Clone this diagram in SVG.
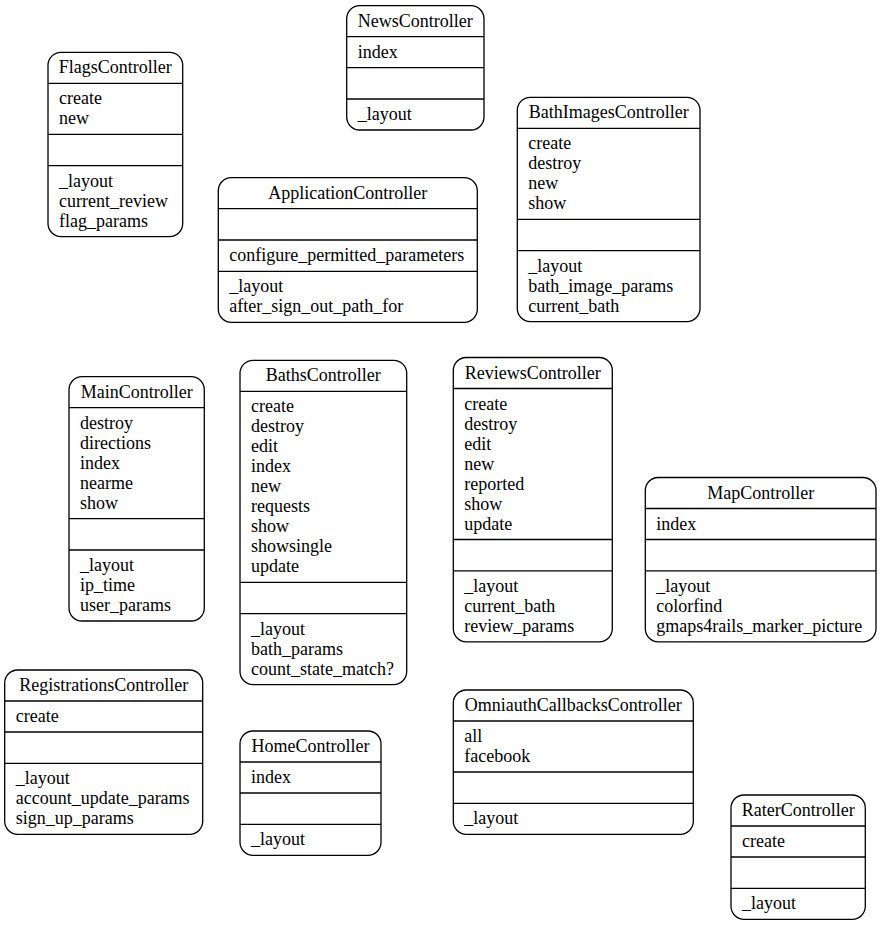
<svg xmlns="http://www.w3.org/2000/svg" width="881" height="925" viewBox="0 0 881 925" font-family="'Liberation Serif', 'Times New Roman', Times, serif" font-size="18">
<style>
.box{fill:#fff;stroke:#000;stroke-width:1.3}
.sep{stroke:#000;stroke-width:1.3}
.t{text-anchor:middle}
</style>
<rect width="881" height="925" fill="#fff"/>
<g id="connectors"></g>

<g id="FlagsController">
<rect class="box" x="48" y="52.3" width="134.7" height="184.3" rx="13"/>
<line class="sep" x1="48" y1="83.3" x2="182.7" y2="83.3"/>
<line class="sep" x1="48" y1="134.3" x2="182.7" y2="134.3"/>
<line class="sep" x1="48" y1="165.6" x2="182.7" y2="165.6"/>
<text class="t" x="115.3" y="73.3">FlagsController</text>
<text x="59" y="104.3">create</text>
<text x="59" y="124.3">new</text>
<text x="59" y="186.6">_layout</text>
<text x="59" y="206.6">current_review</text>
<text x="59" y="226.6">flag_params</text>
</g>

<g id="NewsController">
<rect class="box" x="346.7" y="5.7" width="137.3" height="124.3" rx="13"/>
<line class="sep" x1="346.7" y1="36.7" x2="484" y2="36.7"/>
<line class="sep" x1="346.7" y1="67.7" x2="484" y2="67.7"/>
<line class="sep" x1="346.7" y1="99" x2="484" y2="99"/>
<text class="t" x="415.3" y="26.7">NewsController</text>
<text x="357.7" y="57.7">index</text>
<text x="357.7" y="120">_layout</text>
</g>

<g id="ApplicationController">
<rect class="box" x="218.3" y="177.7" width="259" height="144.6" rx="13"/>
<line class="sep" x1="218.3" y1="208.7" x2="477.3" y2="208.7"/>
<line class="sep" x1="218.3" y1="240" x2="477.3" y2="240"/>
<line class="sep" x1="218.3" y1="271.3" x2="477.3" y2="271.3"/>
<text class="t" x="347.8" y="198.7">ApplicationController</text>
<text x="229.3" y="261">configure_permitted_parameters</text>
<text x="229.3" y="292.3">_layout</text>
<text x="229.3" y="312.3">after_sign_out_path_for</text>
</g>

<g id="BathImagesController">
<rect class="box" x="517.3" y="97.3" width="182.7" height="224.3" rx="13"/>
<line class="sep" x1="517.3" y1="128.3" x2="700" y2="128.3"/>
<line class="sep" x1="517.3" y1="219.3" x2="700" y2="219.3"/>
<line class="sep" x1="517.3" y1="250.6" x2="700" y2="250.6"/>
<text class="t" x="608.7" y="118.3">BathImagesController</text>
<text x="528.3" y="149.3">create</text>
<text x="528.3" y="169.3">destroy</text>
<text x="528.3" y="189.3">new</text>
<text x="528.3" y="209.3">show</text>
<text x="528.3" y="271.6">_layout</text>
<text x="528.3" y="291.6">bath_image_params</text>
<text x="528.3" y="311.6">current_bath</text>
</g>

<g id="MainController">
<rect class="box" x="69" y="376.7" width="135.3" height="244.3" rx="13"/>
<line class="sep" x1="69" y1="407.7" x2="204.3" y2="407.7"/>
<line class="sep" x1="69" y1="518.7" x2="204.3" y2="518.7"/>
<line class="sep" x1="69" y1="550" x2="204.3" y2="550"/>
<text class="t" x="136.7" y="397.7">MainController</text>
<text x="80" y="428.7">destroy</text>
<text x="80" y="448.7">directions</text>
<text x="80" y="468.7">index</text>
<text x="80" y="488.7">nearme</text>
<text x="80" y="508.7">show</text>
<text x="80" y="571">_layout</text>
<text x="80" y="591">ip_time</text>
<text x="80" y="611">user_params</text>
</g>

<g id="BathsController">
<rect class="box" x="240" y="360.3" width="166.7" height="324.3" rx="13"/>
<line class="sep" x1="240" y1="391.3" x2="406.7" y2="391.3"/>
<line class="sep" x1="240" y1="582.3" x2="406.7" y2="582.3"/>
<line class="sep" x1="240" y1="613.6" x2="406.7" y2="613.6"/>
<text class="t" x="323.3" y="381.3">BathsController</text>
<text x="251" y="412.3">create</text>
<text x="251" y="432.3">destroy</text>
<text x="251" y="452.3">edit</text>
<text x="251" y="472.3">index</text>
<text x="251" y="492.3">new</text>
<text x="251" y="512.3">requests</text>
<text x="251" y="532.3">show</text>
<text x="251" y="552.3">showsingle</text>
<text x="251" y="572.3">update</text>
<text x="251" y="634.6">_layout</text>
<text x="251" y="654.6">bath_params</text>
<text x="251" y="674.6">count_state_match?</text>
</g>

<g id="ReviewsController">
<rect class="box" x="453.3" y="357.5" width="159" height="284.3" rx="13"/>
<line class="sep" x1="453.3" y1="388.5" x2="612.3" y2="388.5"/>
<line class="sep" x1="453.3" y1="539.5" x2="612.3" y2="539.5"/>
<line class="sep" x1="453.3" y1="570.8" x2="612.3" y2="570.8"/>
<text class="t" x="532.8" y="378.5">ReviewsController</text>
<text x="464.3" y="409.5">create</text>
<text x="464.3" y="429.5">destroy</text>
<text x="464.3" y="449.5">edit</text>
<text x="464.3" y="469.5">new</text>
<text x="464.3" y="489.5">reported</text>
<text x="464.3" y="509.5">show</text>
<text x="464.3" y="529.5">update</text>
<text x="464.3" y="591.8">_layout</text>
<text x="464.3" y="611.8">current_bath</text>
<text x="464.3" y="631.8">review_params</text>
</g>

<g id="MapController">
<rect class="box" x="645.3" y="477.5" width="230.7" height="164.3" rx="13"/>
<line class="sep" x1="645.3" y1="508.5" x2="876" y2="508.5"/>
<line class="sep" x1="645.3" y1="539.5" x2="876" y2="539.5"/>
<line class="sep" x1="645.3" y1="570.8" x2="876" y2="570.8"/>
<text class="t" x="760.7" y="498.5">MapController</text>
<text x="656.3" y="529.5">index</text>
<text x="656.3" y="591.8">_layout</text>
<text x="656.3" y="611.8">colorfind</text>
<text x="656.3" y="631.8">gmaps4rails_marker_picture</text>
</g>

<g id="RegistrationsController">
<rect class="box" x="4.7" y="670" width="198" height="164.3" rx="13"/>
<line class="sep" x1="4.7" y1="701" x2="202.7" y2="701"/>
<line class="sep" x1="4.7" y1="732" x2="202.7" y2="732"/>
<line class="sep" x1="4.7" y1="763.3" x2="202.7" y2="763.3"/>
<text class="t" x="103.7" y="691">RegistrationsController</text>
<text x="15.7" y="722">create</text>
<text x="15.7" y="784.3">_layout</text>
<text x="15.7" y="804.3">account_update_params</text>
<text x="15.7" y="824.3">sign_up_params</text>
</g>

<g id="HomeController">
<rect class="box" x="240" y="731" width="141" height="124.3" rx="13"/>
<line class="sep" x1="240" y1="762" x2="381" y2="762"/>
<line class="sep" x1="240" y1="793" x2="381" y2="793"/>
<line class="sep" x1="240" y1="824.3" x2="381" y2="824.3"/>
<text class="t" x="310.5" y="752">HomeController</text>
<text x="251" y="783">index</text>
<text x="251" y="845.3">_layout</text>
</g>

<g id="OmniauthCallbacksController">
<rect class="box" x="453.3" y="690" width="240" height="144.3" rx="13"/>
<line class="sep" x1="453.3" y1="721" x2="693.3" y2="721"/>
<line class="sep" x1="453.3" y1="772" x2="693.3" y2="772"/>
<line class="sep" x1="453.3" y1="803.3" x2="693.3" y2="803.3"/>
<text class="t" x="573.3" y="711">OmniauthCallbacksController</text>
<text x="464.3" y="742">all</text>
<text x="464.3" y="762">facebook</text>
<text x="464.3" y="824.3">_layout</text>
</g>

<g id="RaterController">
<rect class="box" x="731" y="795" width="134.3" height="124.3" rx="13"/>
<line class="sep" x1="731" y1="826" x2="865.3" y2="826"/>
<line class="sep" x1="731" y1="857" x2="865.3" y2="857"/>
<line class="sep" x1="731" y1="888.3" x2="865.3" y2="888.3"/>
<text class="t" x="798.2" y="816">RaterController</text>
<text x="742" y="847">create</text>
<text x="742" y="909.3">_layout</text>
</g>
</svg>
